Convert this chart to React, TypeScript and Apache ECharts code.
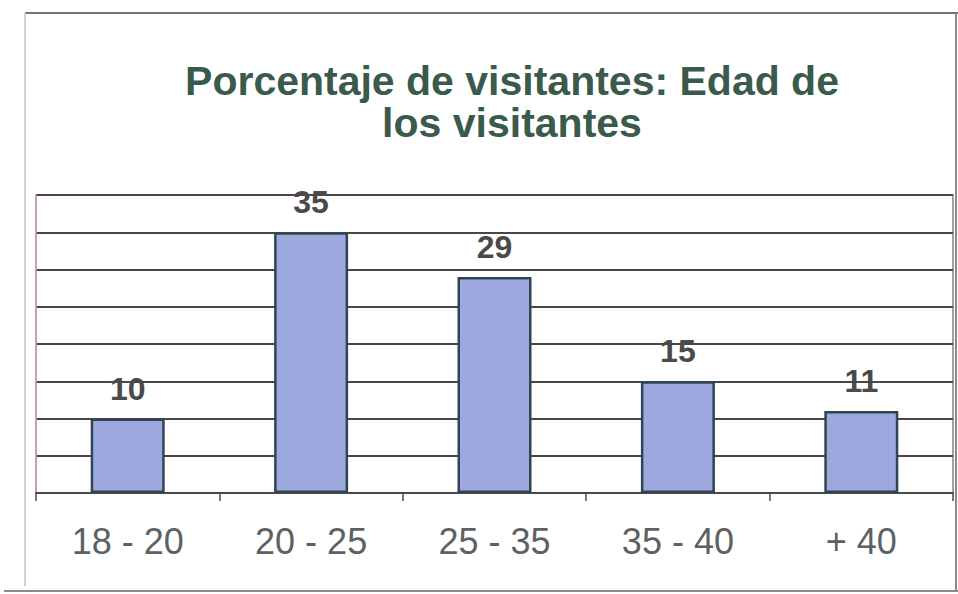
import React, { useEffect, useRef } from "react";
import * as echarts from "echarts";

const categories = ["18 - 20", "20 - 25", "25 - 35", "35 - 40", "+ 40"];
const values = [10, 35, 29, 15, 11];
const titleText = "Porcentaje de visitantes: Edad de\nlos visitantes";

export default function App() {
  const ref = useRef<HTMLDivElement>(null);
  useEffect(() => {
    if (!ref.current) return;
    const chart = echarts.init(ref.current, null, { renderer: "svg" });
    chart.setOption({
      animation: false,
      backgroundColor: "#ffffff",
      title: {
        text: titleText,
        left: 507,
        textAlign: "center",
        top: 55,
        textStyle: {
          fontFamily: "Liberation Sans, Arial, sans-serif",
          fontSize: 41,
          fontWeight: "bold",
          color: "#3a5a4c",
          lineHeight: 42,
        },
      },
      graphic: [
        { type: "line", shape: { x1: 25, y1: 13, x2: 958, y2: 13 }, style: { stroke: "#6f7575", lineWidth: 2 } },
        { type: "line", shape: { x1: 25, y1: 13, x2: 25, y2: 586 }, style: { stroke: "#d0d0d0", lineWidth: 2 } },
        { type: "line", shape: { x1: 956, y1: 13, x2: 956, y2: 590 }, style: { stroke: "#8a8a8a", lineWidth: 2 } },
        { type: "line", shape: { x1: 4, y1: 591, x2: 958, y2: 591 }, style: { stroke: "#8c8c8c", lineWidth: 2 } },
      ],
      grid: {
        left: 36,
        right: 5,
        top: 195,
        bottom: 101,
        show: true,
        borderColor: "#8a8088",
        borderWidth: 1.5,
        backgroundColor: "#ffffff",
      },
      xAxis: {
        type: "category",
        data: categories,
        axisLine: { show: true, lineStyle: { color: "#4a4a4a", width: 2 } },
        axisTick: { show: true, length: 8, lineStyle: { color: "#4a4a4a", width: 1.5 } },
        axisLabel: {
          fontFamily: "Liberation Sans, Arial, sans-serif",
          fontSize: 36,
          color: "#5c6163",
          margin: 30,
        },
      },
      yAxis: {
        type: "value",
        min: 0,
        max: 40,
        interval: 5,
        axisLabel: { show: false },
        axisTick: { show: false },
        axisLine: { show: true, lineStyle: { color: "#c8a4ae", width: 1.5 } },
        splitLine: { show: true, lineStyle: { color: "#4e4448", width: 2 } },
      },
      series: [
        {
          type: "bar",
          data: values,
          barWidth: 74,
          itemStyle: { color: "#9ca8de", borderColor: "#2f4652", borderWidth: 2.5 },
          label: {
            show: true,
            position: "top",
            distance: 14,
            fontFamily: "Liberation Sans, Arial, sans-serif",
            fontSize: 32,
            fontWeight: "bold",
            color: "#4a4a4a",
          },
        },
      ],
    });
    return () => chart.dispose();
  }, []);
  return (
    <div
      ref={ref}
      style={{ position: "fixed", left: 0, top: 0, width: 958, height: 594 }}
    />
  );
}
